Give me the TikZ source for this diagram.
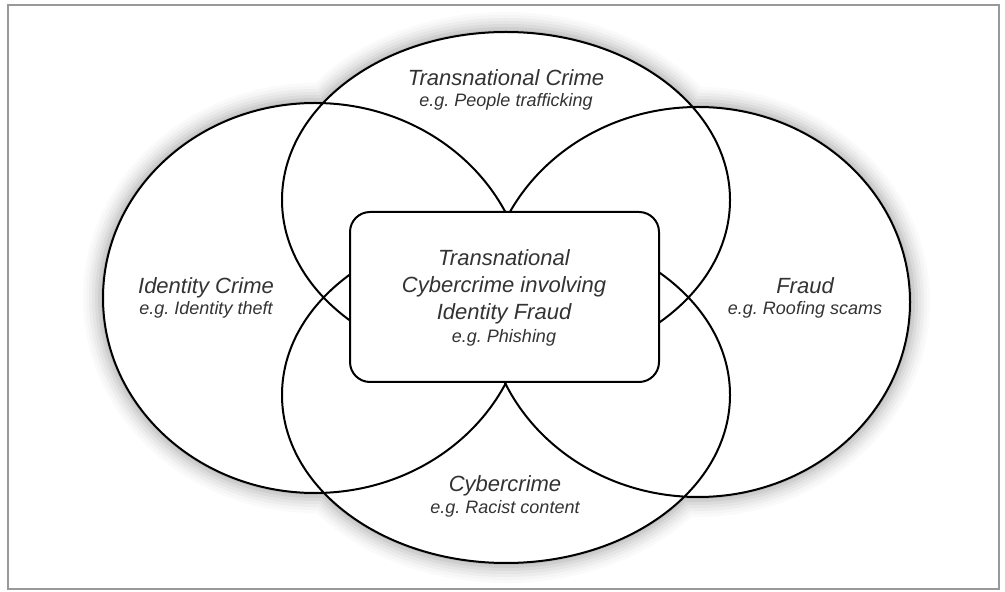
\documentclass[tikz,border=0pt]{standalone}
\usepackage{fontspec}
\setmainfont{Liberation Sans}
\frenchspacing
\begin{document}
\begin{tikzpicture}[x=0.5pt, y=-0.5pt,
    setlabel/.style={font=\itshape\fontsize{11}{13.5}\selectfont, text=black!80, align=center, inner sep=0pt},
    egtext/.style={font=\itshape\fontsize{9}{11}\selectfont, text=black!80, inner sep=0pt},
    corebox/.style={draw, fill=white, line width=1pt, rounded corners=10pt,
        minimum width=154.5pt, minimum height=85pt},
    outerframe/.style={draw=gray!80, line width=1.2pt}]
    % Define parameters
    \def\rxa{224} % half width, transnational / cyber
    \def\rya{168} % half height, transnational / cyber
    \def\rxb{212} % half width, identity / fraud
    \def\ryb{195} % half height, identity / fraud
    \newcommand\crimesets[1]{%
        (506,200) ellipse [x radius=\rxa+#1, y radius=\rya+#1]
        (506,395) ellipse [x radius=\rxa+#1, y radius=\rya+#1]
        (315,298) ellipse [x radius=\rxb+#1, y radius=\ryb+#1]
        (698,302) ellipse [x radius=\rxb+#1, y radius=\ryb+#1]}
    
    \useasboundingbox (0,0) rectangle (1005,592);
    
    % Outer frame
    \draw[outerframe] (8,5) rectangle (999,589);
    
    % Soft shadow round the sets
    \foreach \g/\k in {20/2, 17/4, 14/7, 11/10, 8/14, 5/19, 2/25}
        \fill[black!\k] \crimesets{\g};
    \fill[white] \crimesets{0};
    
    % The four sets
    \draw[line width=1pt] \crimesets{0};
    
    % Centre box
    \node[corebox] (core) at (504.5,297) {};
    
    % Labels
    \node[setlabel, anchor=base] (trans) at (506,86) {Transnational Crime};
    \node[egtext, anchor=base] (transeg) at (506,107) {e.g. People trafficking};
    
    \node[setlabel, anchor=base] (ident) at (206,294) {Identity Crime};
    \node[egtext, anchor=base] (identeg) at (206,315) {e.g. Identity theft};
    
    \node[setlabel, anchor=base] (fraud) at (805,294) {Fraud};
    \node[egtext, anchor=base] (fraudeg) at (805,315) {e.g. Roofing scams};
    
    \node[setlabel, anchor=base] (cyber) at (505,491) {Cybercrime};
    \node[egtext, anchor=base] (cybereg) at (505,513) {e.g. Racist content};
    
    \node[setlabel] (coretxt) at (504,287) {Transnational\\Cybercrime involving\\Identity Fraud};
    \node[egtext, anchor=base] (coreeg) at (504,343) {e.g. Phishing};
    
\end{tikzpicture}
\end{document}
